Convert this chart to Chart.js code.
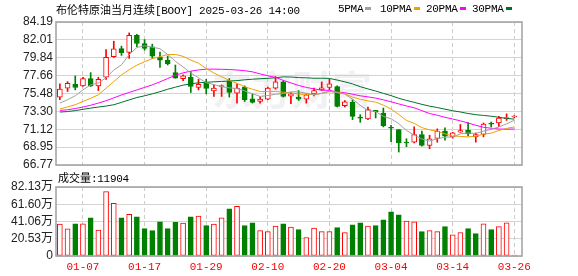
<!DOCTYPE html>
<html>
<head>
<meta charset="utf-8">
<script src="https://cdn.jsdelivr.net/npm/chart.js@4.4.1/dist/chart.umd.min.js"></script>
<style>
body { margin:0; background:#fff; width:578px; height:276px; overflow:hidden; position:relative; }
canvas { position:absolute; left:0; top:0; }
.txt { position:absolute; white-space:nowrap; font-size:11px; line-height:14px; color:#000; }
.cjk { font-family:"Noto Sans CJK SC", sans-serif; }
.mono { font-family:"Liberation Mono", monospace; letter-spacing:-0.3px; }
.sw { display:inline-block; width:6px; height:3px; vertical-align:middle; margin-left:2px; margin-top:-2px; }
</style>
</head>
<body>
<canvas id="k" width="578" height="276"></canvas>
<canvas id="v" width="578" height="276"></canvas>

<div class="txt" style="left:56px;top:2px;"><span class="cjk">布伦特原油当月连续</span><span class="mono">[BOOY] 2025-03-26 14:00</span></div>
<div class="txt mono" style="left:338px;top:2px;">5PMA<span class="sw" style="background:#a0a0a0"></span></div>
<div class="txt mono" style="left:380px;top:2px;">10PMA<span class="sw" style="background:#f0a000"></span></div>
<div class="txt mono" style="left:426px;top:2px;">20PMA<span class="sw" style="background:#ff00ff"></span></div>
<div class="txt mono" style="left:472px;top:2px;">30PMA<span class="sw" style="background:#00702c"></span></div>
<div class="txt" style="left:58px;top:170px;"><span class="cjk">成交量</span><span class="mono">:11904</span></div>

<script>
// 日期 (交易日)
const dates = ['01-02','01-03','01-06','01-07','01-08','01-09','01-10','01-13','01-14','01-15',
  '01-16','01-17','01-20','01-21','01-22','01-23','01-24','01-27','01-28','01-29',
  '01-30','01-31','02-03','02-04','02-05','02-06','02-07','02-10','02-11','02-12',
  '02-13','02-14','02-17','02-18','02-19','02-20','02-21','02-24','02-25','02-26',
  '02-27','02-28','03-03','03-04','03-05','03-06','03-07','03-10','03-11','03-12',
  '03-13','03-14','03-17','03-18','03-19','03-20','03-21','03-24','03-25','03-26'];

// K线
const opens = [75.04,76.13,76.61,76.41,77.30,76.41,77.46,79.96,80.96,80.48,
  82.58,81.57,81.17,79.88,79.55,78.02,77.30,77.46,76.21,76.81,
  75.80,76.33,77.01,75.52,76.25,74.84,74.51,74.80,76.13,76.89,
  75.16,75.04,74.80,75.44,75.92,76.21,76.33,73.99,74.39,72.62,
  72.38,73.43,73.10,71.35,71.09,69.52,69.55,70.48,69.15,70.00,
  70.89,70.20,70.76,71.00,70.20,70.48,71.81,71.89,72.42,72.62];
const highs = [76.65,76.93,77.62,77.46,78.02,77.46,80.84,81.85,81.25,82.86,
  82.70,82.05,81.49,80.52,80.04,78.95,77.74,78.14,77.21,77.21,
  76.53,76.53,77.30,76.65,76.41,75.44,75.12,76.25,77.54,77.01,
  75.60,75.84,75.44,76.13,76.89,77.21,76.41,74.63,74.72,72.90,
  73.83,73.43,73.71,71.60,71.09,69.97,71.41,70.89,70.40,71.17,
  71.29,70.76,71.70,71.95,70.68,71.89,72.01,72.70,73.00,72.80];
const lows = [74.72,75.72,75.92,76.33,76.33,75.84,77.21,79.88,80.12,79.76,
  81.17,80.76,79.76,78.67,78.95,77.34,77.05,75.60,75.92,75.44,
  75.12,75.12,75.04,74.31,74.51,74.31,74.31,74.72,76.01,75.04,
  74.23,74.63,74.31,75.20,75.84,75.92,73.83,73.83,72.30,71.97,
  72.30,72.50,71.41,69.60,68.35,69.00,69.47,69.07,68.75,69.55,
  69.80,70.04,70.76,70.30,69.55,70.20,71.41,71.45,72.20,72.50];
const closes = [76.01,76.73,76.21,77.30,76.41,77.21,79.88,80.92,80.44,82.58,
  81.57,80.96,80.04,79.55,79.07,77.34,77.62,76.33,76.61,76.09,
  76.13,76.41,75.60,76.13,74.72,74.39,74.80,76.13,76.89,75.12,
  75.44,74.80,75.32,75.84,76.17,76.65,73.91,74.47,72.70,72.46,
  73.51,73.27,71.57,71.25,69.47,69.45,70.48,69.15,69.96,70.89,
  70.28,70.68,70.97,70.60,70.48,71.77,71.73,72.50,72.50,72.70];

// 均线
const ma5 = [74.31,74.72,75.20,75.92,76.53,76.77,77.40,78.34,78.97,80.21,
  81.08,81.29,81.12,80.94,80.24,79.39,78.72,77.98,77.39,76.80,
  76.56,76.31,76.17,76.07,75.80,75.45,75.13,75.23,75.39,75.47,
  75.68,75.68,75.51,75.30,75.51,75.76,75.58,75.41,74.78,74.04,
  73.41,73.28,72.70,72.40,71.81,70.98,70.42,69.94,69.69,69.97,
  70.15,70.19,70.56,70.68,70.60,70.90,71.11,71.41,71.78,72.22];
const ma10 = [73.59,73.85,74.11,74.51,74.90,75.32,76.13,76.93,77.74,78.37,
  78.93,79.35,79.73,79.96,80.22,80.24,80.01,79.55,79.17,78.52,
  77.97,77.52,77.08,76.73,76.30,76.00,75.72,75.70,75.73,75.63,
  75.56,75.40,75.37,75.35,75.49,75.72,75.63,75.46,75.04,74.78,
  74.58,74.43,74.06,73.59,72.92,72.20,71.85,71.32,71.05,70.89,
  70.57,70.31,70.25,70.19,70.29,70.53,70.65,70.98,71.23,71.41];
const ma20 = [73.42,73.50,73.65,73.83,74.05,74.31,74.60,74.95,75.30,75.60,
  75.92,76.22,76.53,76.90,77.30,77.70,78.00,78.20,78.35,78.44,
  78.45,78.43,78.40,78.34,78.26,78.12,77.87,77.63,77.45,77.08,
  76.77,76.46,76.22,76.04,75.89,75.86,75.67,75.58,75.39,75.20,
  75.07,74.92,74.71,74.47,74.21,73.96,73.74,73.39,73.04,72.83,
  72.58,72.37,72.15,71.89,71.61,71.36,71.25,71.15,71.14,71.15];
const ma30 = [73.22,73.28,73.40,73.55,73.70,73.83,73.95,74.11,74.40,74.70,
  74.99,75.20,75.44,75.70,76.00,76.25,76.50,76.65,76.78,76.85,
  76.90,76.95,77.00,77.05,77.15,77.22,77.28,77.33,77.40,77.51,
  77.49,77.42,77.39,77.34,77.34,77.32,77.12,76.90,76.65,76.31,
  76.04,75.78,75.50,75.22,74.90,74.64,74.40,74.16,73.94,73.77,
  73.57,73.38,73.23,73.04,72.90,72.81,72.71,72.59,72.44,72.36];

// 成交量 (万)
const volumes = [38.0,32.2,38.4,38.4,45.4,31.0,76.7,62.6,45.4,49.7,
  46.6,32.6,30.2,40.8,32.6,40.0,39.2,46.6,47.4,36.1,
  38.0,45.4,56.0,59.1,36.1,39.6,30.2,29.0,35.7,38.4,
  34.5,31.4,22.0,33.3,29.0,29.0,33.7,27.9,37.2,39.6,
  35.7,36.1,43.1,52.5,48.9,41.5,40.8,29.0,30.2,29.0,
  34.9,25.1,27.9,32.6,26.7,38.4,31.4,34.9,39.6,1.19];
// 1 = 红(空心), 0 = 绿
const volUp = [1,1,0,1,0,1,1,1,0,1, 0,0,0,0,0,0,1,0,1,0,
  1,1,0,1,0,0,1,1,1,0, 1,0,1,1,1,1,0,1,0,0,
  1,0,0,0,0,1,1,0,1,1, 0,1,1,0,0,1,0,1,1,1];

const priceTicks = [66.77,68.95,71.12,73.30,75.48,77.66,79.84,82.01,84.19];
const volTicks = [0,20.53,41.06,61.60,82.13];
const labelIdx = [3,11,19,27,35,43,51,59];

const RED = '#ff0000', GREEN = '#008000';
const up = closes.map((c, i) => c >= opens[i]);

const frame = {
  id: 'frame',
  afterDraw(chart) {
    const {ctx, chartArea: a} = chart;
    ctx.save();
    ctx.strokeStyle = '#a0a0a0';
    ctx.lineWidth = 1.5;
    ctx.strokeRect(a.left, a.top, a.right - a.left, a.bottom - a.top);
    ctx.restore();
  }
};

const watermark = {
  id: 'watermark',
  beforeDatasetsDraw(chart) {
    const ctx = chart.ctx;
    ctx.save();
    ctx.font = 'bold 40px "Noto Sans CJK SC"';
    ctx.fillStyle = 'rgba(200,200,212,0.25)';
    ctx.textAlign = 'center';
    ctx.textBaseline = 'middle';
    ctx.fillText('东方财富', 292, 90);
    ctx.restore();
  }
};

function xScale(showLabels) {
  return {
    type: 'linear', min: -0.5, max: 60, offset: false,
    afterBuildTicks: s => { s.ticks = labelIdx.map(v => ({value: v})); },
    afterFit: s => { s.height = showLabels ? 20 : 0; },
    ticks: {
      display: showLabels, padding: 4, color: RED, autoSkip: false, maxRotation: 0,
      font: {family: 'Liberation Mono', size: 11},
      callback: v => dates[v]
    },
    grid: {color: '#cccccc', drawTicks: false, offset: false},
    border: {display: false, dash: [4, 3]}
  };
}

const priceLine = (data, color) => ({
  type: 'line', data: data.map((v, i) => ({x: i, y: v})),
  borderColor: color, borderWidth: 1, pointRadius: 0, tension: 0, order: 0
});

new Chart(document.getElementById('k'), {
  type: 'bar',
  data: {
    datasets: [
      priceLine(ma5, '#a0a0a0'),
      priceLine(ma10, '#f0a000'),
      priceLine(ma20, '#ff00ff'),
      priceLine(ma30, '#00702c'),
      {
        type: 'bar', order: 1, grouped: false, barThickness: 5, minBarLength: 1,
        borderSkipped: false, borderWidth: 1,
        data: opens.map((o, i) => ({x: i, y: [o, closes[i]]})),
        backgroundColor: up.map(u => u ? '#ffffff' : GREEN),
        borderColor: up.map(u => u ? RED : GREEN)
      },
      {
        type: 'bar', order: 2, grouped: false, barThickness: 1,
        data: lows.map((l, i) => ({x: i, y: [l, highs[i]]})),
        backgroundColor: up.map(u => u ? RED : GREEN)
      }
    ]
  },
  options: {
    responsive: false, animation: false,
    layout: {padding: {top: 22, right: 56, bottom: 111, left: 0}},
    plugins: {legend: {display: false}, tooltip: {enabled: false}},
    scales: {
      x: xScale(false),
      y: {
        min: 66.77, max: 84.19,
        afterBuildTicks: s => { s.ticks = priceTicks.map(v => ({value: v})); },
        afterFit: s => { s.width = 56; },
        ticks: {padding: 3, color: '#222', autoSkip: false, font: {family: 'Liberation Sans', size: 12},
          callback: v => v.toFixed(2)},
        grid: {color: '#d4d4d4', drawTicks: false},
        border: {display: false}
      }
    }
  },
  plugins: [watermark, frame]
});

new Chart(document.getElementById('v'), {
  type: 'bar',
  data: {
    datasets: [{
      grouped: false, barThickness: 5, borderWidth: 1, borderSkipped: false,
      data: volumes.map((v, i) => ({x: i, y: v})),
      backgroundColor: volUp.map(u => u ? '#ffffff' : GREEN),
      borderColor: volUp.map(u => u ? RED : GREEN)
    }]
  },
  options: {
    responsive: false, animation: false,
    layout: {padding: {top: 187, right: 56, bottom: 0, left: 0}},
    plugins: {legend: {display: false}, tooltip: {enabled: false}},
    scales: {
      x: xScale(true),
      y: {
        min: 0, max: 82.13,
        afterBuildTicks: s => { s.ticks = volTicks.map(v => ({value: v})); },
        afterFit: s => { s.width = 56; },
        ticks: {padding: 3, color: '#222', autoSkip: false,
          font: {family: 'Liberation Sans, "Noto Sans CJK SC"', size: 12},
          callback: v => v === 0 ? '0' : v.toFixed(2) + '万'},
        grid: {color: '#d4d4d4', drawTicks: false},
        border: {display: false}
      }
    }
  },
  plugins: [frame]
});
</script>
</body>
</html>
